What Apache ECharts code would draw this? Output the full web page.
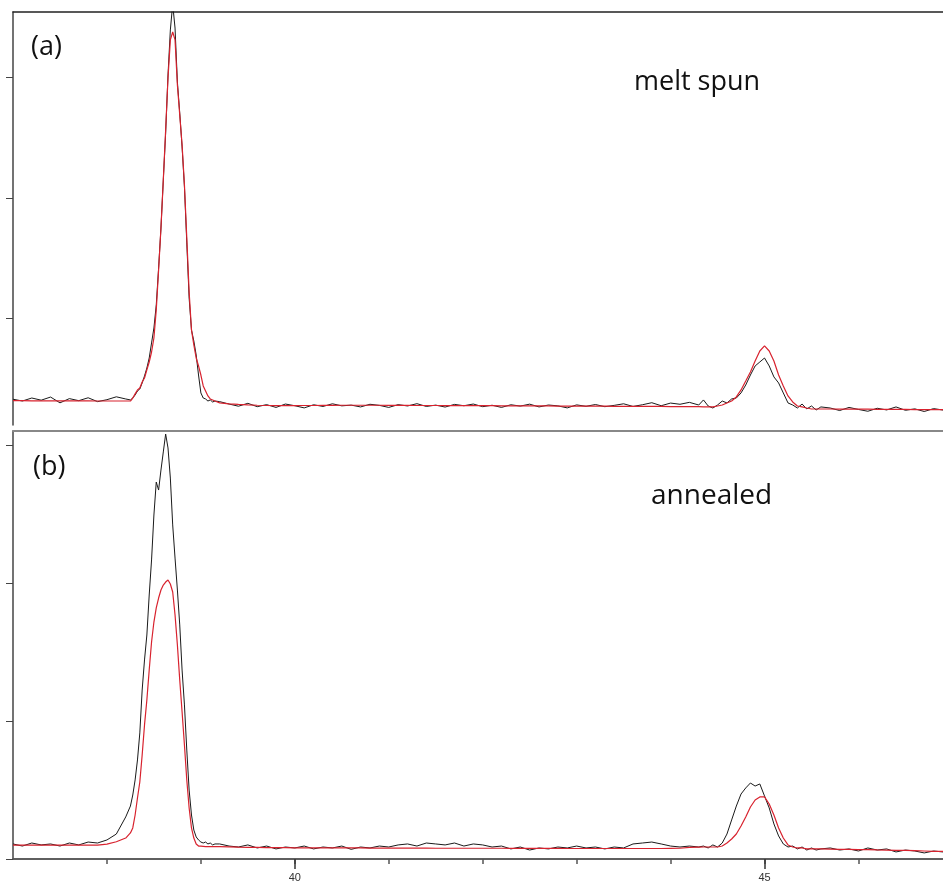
<!DOCTYPE html>
<html>
<head>
<meta charset="utf-8">
<script src="https://cdn.jsdelivr.net/npm/echarts@6/dist/echarts.min.js"></script>
<style>
  html, body { margin: 0; padding: 0; background: #fff; }
  #chart { width: 943px; height: 886px; }
</style>
</head>
<body>
<div id="chart"></div>
<script>
// 2theta positions (deg), finer steps around the peaks
var twoTheta = [
  37.0, 37.1, 37.2, 37.3, 37.4, 37.5, 37.6, 37.7, 37.8, 37.9, 38.0, 38.1, 38.2,
  38.25, 38.275, 38.3, 38.325, 38.35, 38.375, 38.4, 38.425, 38.45, 38.475,
  38.5, 38.525, 38.55, 38.575, 38.6, 38.625, 38.65, 38.675, 38.7, 38.725,
  38.75, 38.775, 38.8, 38.825, 38.85, 38.875, 38.9, 38.925, 38.95, 38.975,
  39.0, 39.025, 39.05, 39.075, 39.1, 39.125, 39.15,
  39.2, 39.3, 39.4, 39.5, 39.6, 39.7, 39.8, 39.9, 40.0, 40.1,
  40.2, 40.3, 40.4, 40.5, 40.6, 40.7, 40.8, 40.9, 41.0, 41.1,
  41.2, 41.3, 41.4, 41.5, 41.6, 41.7, 41.8, 41.9, 42.0, 42.1,
  42.2, 42.3, 42.4, 42.5, 42.6, 42.7, 42.8, 42.9, 43.0, 43.1,
  43.2, 43.3, 43.4, 43.5, 43.6, 43.7, 43.8, 43.9, 44.0, 44.1,
  44.2, 44.3,
  44.35, 44.4, 44.45, 44.5, 44.55, 44.6, 44.65, 44.7, 44.75, 44.8,
  44.85, 44.9, 44.95, 45.0, 45.05, 45.1, 45.15, 45.2, 45.25, 45.3,
  45.35, 45.4, 45.45, 45.5, 45.55, 45.6,
  45.7, 45.8, 45.9, 46.0, 46.1, 46.2, 46.3, 46.4, 46.5, 46.6, 46.7, 46.8, 46.9
];

// (a) melt spun - measured
var meltSpunObs = [
  330, 315, 340, 322, 348, 300, 335, 318, 342, 310, 326, 350, 332,
  324, 340, 365, 398, 415, 465, 523, 589, 672, 797,
  921, 1112, 1419, 1751, 2150, 2540, 3021, 3395, 3610, 3411,
  2963, 2706, 2424, 2092, 1627, 1170, 904, 813, 697, 531,
  382, 340, 332, 315, 324, 307, 315,
  310, 290, 272, 296, 268, 285, 262, 290, 276, 258,
  284, 270, 292, 275, 281, 266, 288, 279, 262, 285,
  274, 293, 270, 281, 265, 287, 276, 290, 268, 280,
  262, 284, 273, 289, 266, 282, 275, 258, 283, 271,
  286, 268, 279, 292, 270, 284, 301, 276, 298, 288,
  304, 282,
  324, 274, 257, 282, 315, 299, 332, 340, 382, 448,
  531, 606, 639, 672, 606, 515, 465, 382, 299, 282,
  257, 290, 249, 274, 241, 266,
  257, 236, 262, 245, 230, 255, 241, 266, 238, 250, 228, 252, 240
];
// (a) melt spun - calculated
var meltSpunCalc = [
  318, 318, 317, 317, 317, 316, 316, 316, 316, 315, 315, 315, 315,
  315, 340, 374, 407, 423, 473, 506, 573, 639, 722,
  838, 1071, 1403, 1751, 2150, 2565, 2996, 3312, 3378, 3312,
  2938, 2689, 2440, 2108, 1668, 1220, 905, 780, 672, 606,
  531, 440, 398, 357, 332, 324, 315,
  300, 292, 287, 283, 280, 278, 277, 277, 277, 278,
  278, 279, 279, 280, 280, 280, 280, 280, 279, 279,
  279, 278, 278, 278, 277, 277, 277, 276, 276, 276,
  275, 275, 275, 274, 274, 274, 273, 273, 273, 272,
  272, 272, 271, 271, 271, 270, 270, 270, 269, 269,
  268, 268,
  266, 266, 266, 274, 282, 299, 315, 349, 407, 481,
  556, 647, 730, 772, 730, 647, 531, 440, 357, 307,
  274, 266, 257, 249, 249, 249,
  249, 248, 248, 247, 247, 246, 246, 245, 245, 244, 244, 243, 243
];

// (b) annealed - measured
var annealedObs = [
  109, 94, 116, 102, 109, 94, 116, 102, 123, 116, 138, 181, 305,
  384, 464, 573, 718, 914, 1225, 1443, 1624, 1914, 2168,
  2494, 2733, 2675, 2820, 2951, 3081, 2980, 2762, 2422, 2182,
  1950, 1697, 1370, 1117, 790, 500, 319, 210, 160, 138,
  123, 116, 123, 109, 116, 102, 109,
  109, 94, 87, 102, 80, 94, 73, 87, 80, 94,
  73, 87, 80, 94, 70, 87, 80, 94, 87, 102,
  109, 94, 116, 109, 102, 116, 94, 109, 102, 87,
  94, 73, 87, 65, 80, 73, 87, 80, 94, 80,
  87, 73, 87, 80, 109, 116, 123, 109, 94, 87,
  94, 87,
  94, 80, 102, 87, 116, 181, 283, 384, 471, 515,
  551, 529, 544, 457, 370, 254, 167, 109, 87, 94,
  73, 87, 65, 80, 65, 73,
  80, 65, 73, 58, 80, 65, 73, 51, 65, 58, 44, 58, 51
];
// (b) annealed - calculated
var annealedCalc = [
  101, 101, 101, 101, 101, 101, 101, 101, 101, 101, 108, 125, 152,
  189, 225, 319, 442, 558, 754, 972, 1153, 1370, 1573,
  1718, 1820, 1892, 1950, 1986, 2008, 2023, 1994, 1936, 1769,
  1552, 1298, 1066, 827, 573, 370, 225, 152, 109, 94,
  94, 92, 90, 90, 90, 90, 90,
  90, 88, 86, 85, 84, 83, 82, 82, 81, 81,
  80, 80, 80, 80, 80, 80, 79, 79, 79, 79,
  79, 79, 79, 78, 78, 78, 78, 78, 78, 78,
  78, 77, 77, 77, 77, 77, 77, 76, 76, 76,
  76, 76, 76, 76, 76, 76, 76, 76, 77, 78,
  84, 86,
  87, 87, 87, 87, 94, 116, 145, 181, 239, 305,
  377, 428, 450, 450, 399, 319, 225, 152, 102, 87,
  80, 80, 73, 73, 73, 73,
  72, 70, 70, 68, 68, 66, 65, 63, 62, 60, 58, 56, 55
];

var xTicks = [38, 39, 40, 41, 42, 43, 44, 45, 46];
var xLabels = [40, 45];
var yTicksA = [1000, 2000, 3000];
var yTicksB = [0, 1000, 2000, 3000];

function pairs(ys) {
    return twoTheta.map(function (x, i) { return [x, ys[i]]; });
}

var chart = echarts.init(document.getElementById("chart"));
var xMin = 37, xMax = 46.9;
var obsColor = "#1a1a1a", calcColor = "#d8222e";

chart.setOption({
    animation: false,
    grid: [
        { left: 13, right: 0, top: 12, height: 413 },
        { left: 13, right: 0, top: 431, height: 428 }
    ],
    xAxis: [
        { // top border of (a)
            gridIndex: 0, type: "value", min: xMin, max: xMax, position: "top",
            axisLine: { onZero: false, lineStyle: { color: "#222", width: 1.5 } },
            axisTick: { show: false }, axisLabel: { show: false }, splitLine: { show: false }
        },
        { // top border of (b)
            gridIndex: 1, type: "value", min: xMin, max: xMax, position: "top",
            axisLine: { onZero: false, lineStyle: { color: "#888", width: 2 } },
            axisTick: { show: false }, axisLabel: { show: false }, splitLine: { show: false }
        },
        { // minor ticks
            gridIndex: 1, type: "value", min: xMin, max: xMax, position: "bottom",
            axisLine: { onZero: false, lineStyle: { color: "#555", width: 1.5 } },
            axisTick: { customValues: xTicks, length: 5, lineStyle: { color: "#555", width: 1.5 } },
            axisLabel: { show: false }, splitLine: { show: false }
        },
        { // labelled ticks
            gridIndex: 1, type: "value", min: xMin, max: xMax, position: "bottom",
            axisLine: { onZero: false, lineStyle: { color: "#555", width: 1.5 } },
            axisTick: { customValues: xLabels, length: 10, lineStyle: { color: "#333", width: 1.5 } },
            axisLabel: {
                customValues: xLabels, margin: 13, color: "#333",
                fontSize: 11, fontFamily: "Liberation Sans Narrow, Liberation Sans, sans-serif"
            },
            splitLine: { show: false }
        }
    ],
    yAxis: [
        {
            gridIndex: 0, type: "value", min: 116, max: 3544,
            axisLine: { show: true, onZero: false, lineStyle: { color: "#444", width: 1.5 } },
            axisTick: { show: true, customValues: yTicksA, length: 7, lineStyle: { color: "#444" } },
            axisLabel: { show: false }, splitLine: { show: false }
        },
        {
            gridIndex: 1, type: "value", min: 0, max: 3103,
            axisLine: { show: true, onZero: false, lineStyle: { color: "#444", width: 1.5 } },
            axisTick: { show: true, customValues: yTicksB, length: 7, lineStyle: { color: "#444" } },
            axisLabel: { show: false }, splitLine: { show: false }
        }
    ],
    series: [
        {
            name: "melt spun obs", type: "line", xAxisIndex: 0, yAxisIndex: 0,
            data: pairs(meltSpunObs), showSymbol: false, clip: true,
            lineStyle: { color: obsColor, width: 1 }
        },
        {
            name: "melt spun calc", type: "line", xAxisIndex: 0, yAxisIndex: 0,
            data: pairs(meltSpunCalc), showSymbol: false, clip: true,
            lineStyle: { color: calcColor, width: 1.2 }
        },
        {
            name: "annealed obs", type: "line", xAxisIndex: 2, yAxisIndex: 1,
            data: pairs(annealedObs), showSymbol: false, clip: true,
            lineStyle: { color: obsColor, width: 1 }
        },
        {
            name: "annealed calc", type: "line", xAxisIndex: 2, yAxisIndex: 1,
            data: pairs(annealedCalc), showSymbol: false, clip: true,
            lineStyle: { color: calcColor, width: 1.2 }
        }
    ],
    graphic: [
        { type: "text", left: 31, top: 34, style: { text: "(a)", fill: "#111", font: "27px 'Open Sans', sans-serif" } },
        { type: "text", left: 33, top: 454, style: { text: "(b)", fill: "#111", font: "27px 'Open Sans', sans-serif" } },
        { type: "text", left: 634, top: 69, style: { text: "melt spun", fill: "#111", font: "27px 'Open Sans', sans-serif" } },
        { type: "text", left: 651, top: 482, style: { text: "annealed", fill: "#111", font: "28px 'Open Sans', sans-serif" } }
    ]
});
window.addEventListener("resize", function () {
    chart.resize();
});
</script>
</body>
</html>
